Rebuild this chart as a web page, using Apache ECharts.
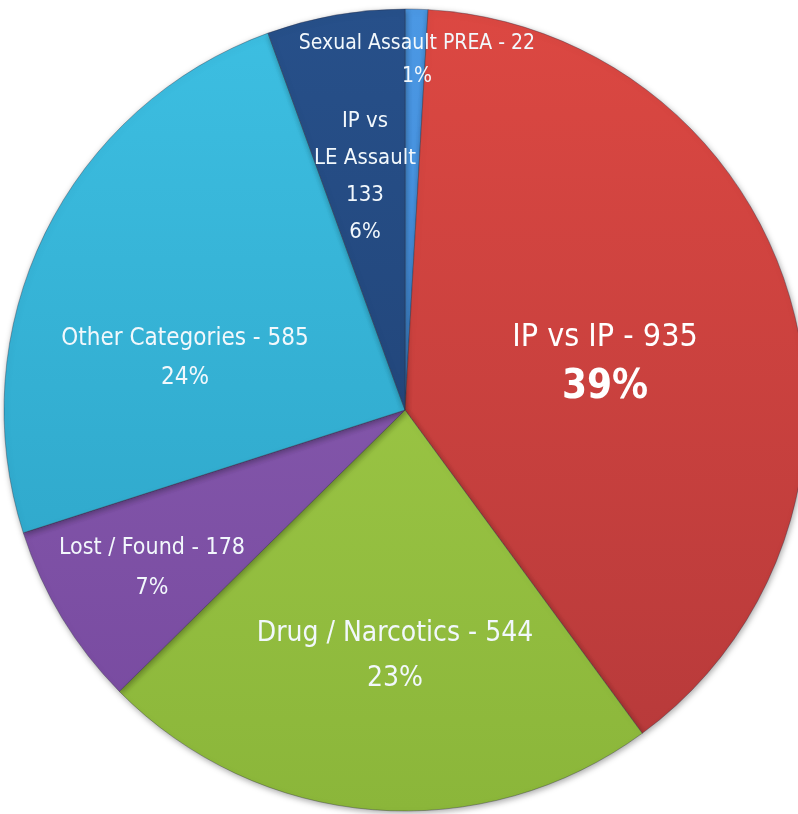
<!DOCTYPE html>
<html>
<head>
<meta charset="utf-8">
<style>
  html, body { margin: 0; padding: 0; background: #fff; }
  #chart { width: 798px; height: 814px; }
</style>
<script src="https://cdn.jsdelivr.net/npm/echarts@6/dist/echarts.min.js"></script>
</head>
<body>
<div id="chart"></div>
<script>
// Incident counts by category, clockwise from 12 o'clock
const categories = ['Sexual Assault PREA', 'IP vs IP', 'Drug / Narcotics', 'Lost / Found', 'Other Categories', 'IP vs LE Assault']
const counts = [22, 935, 544, 178, 585, 133]

// slice colours: light top, darker bottom
const topColors = ['#4b98e4', '#dc4842', '#a6d04c', '#8d62b4', '#3dbfe2', '#27508a']
const bottomColors = ['#3a7fcc', '#b5393a', '#8bb63a', '#76489e', '#2a9fc2', '#1e3e6e']

// label placement and look per slice
const labelSpots = [[417, 60], [605, 364], [395, 656], [152, 568], [185, 358], [365, 177]]
const labelSizes = [21, 32, 28, 23, 24, 22]
const labelLines = [33, 48, 45, 40, 39, 37]

const chart = echarts.init(document.getElementById('chart'))
const font = "'DejaVu Sans Condensed', 'Liberation Sans Narrow', sans-serif"

const data = categories.map((name, i) => {
  let formatter = '{b} - {c}\n{d}%'
  if (name === 'IP vs LE Assault') formatter = 'IP vs\nLE Assault\n{c}\n{d}%'
  if (name === 'IP vs IP') formatter = '{a|{b} - {c}}\n{p|{d}%}'
  return {
    name,
    value: counts[i],
    itemStyle: {
      color: new echarts.graphic.LinearGradient(0, 10, 0, 810, [
        { offset: 0, color: topColors[i] },
        { offset: 1, color: bottomColors[i] }
      ], true)
    },
    label: {
      formatter,
      fontSize: labelSizes[i],
      lineHeight: labelLines[i],
      rich: {
        a: { fontSize: 32, lineHeight: 48, color: '#fff', fontFamily: font },
        p: { fontSize: 40, lineHeight: 52, color: '#fff', fontWeight: 'bold', fontFamily: font }
      }
    }
  }
})

chart.setOption({
  animation: false,
  series: [
    {
      type: 'pie',
      center: [405, 410],
      radius: [0, 401],
      startAngle: 90,
      clockwise: true,
      percentPrecision: 0,
      avoidLabelOverlap: false,
      itemStyle: {
        borderColor: 'rgba(40, 40, 60, 0.35)',
        borderWidth: 1,
        shadowBlur: 6,
        shadowOffsetX: 1,
        shadowOffsetY: 2,
        shadowColor: 'rgba(0, 0, 0, 0.35)'
      },
      label: {
        show: true,
        position: 'inside',
        color: '#f2f8fc',
        fontFamily: font,
        align: 'center'
      },
      labelLine: { show: false },
      labelLayout: params => ({
        x: labelSpots[params.dataIndex][0],
        y: labelSpots[params.dataIndex][1],
        align: 'center',
        verticalAlign: 'middle'
      }),
      data
    }
  ]
})
</script>
</body>
</html>
